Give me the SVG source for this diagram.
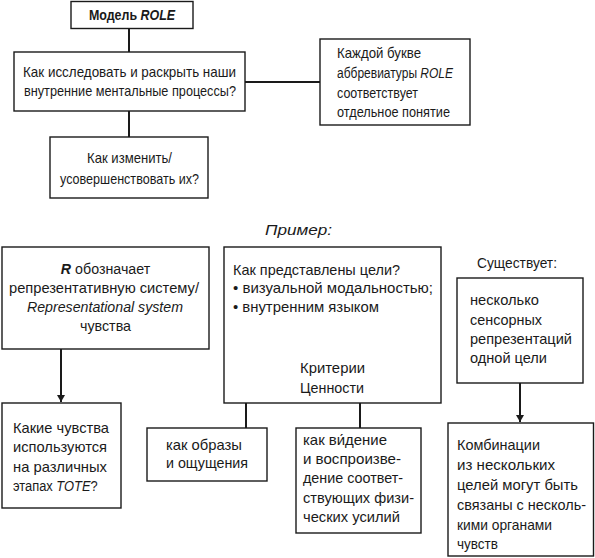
<svg xmlns="http://www.w3.org/2000/svg" width="595" height="558" viewBox="0 0 595 558">
<defs>
<style>
.b{fill:#fff;stroke:#1a1a1a;stroke-width:1.4}
.t{font-family:"Liberation Sans",Arial,sans-serif;font-size:15px;fill:#1a1a1a}
.c{text-anchor:middle}
.i{font-style:italic}
.ln{stroke:#1a1a1a;stroke-width:2;fill:none}
</style>
<marker id="ah" markerWidth="8" markerHeight="10" refX="7" refY="5" orient="auto" markerUnits="userSpaceOnUse">
<path d="M0,1 L7,5 L0,9 Z" fill="#1a1a1a"/>
</marker>
</defs>
<rect width="595" height="558" fill="#fff"/>
<g id="connectors">
<line class="ln" x1="129" y1="28" x2="129" y2="52"/>
<line class="ln" x1="245" y1="82" x2="320" y2="82"/>
<line class="ln" x1="129" y1="111" x2="129" y2="137"/>
<line class="ln" x1="61" y1="349" x2="61" y2="402" marker-end="url(#ah)"/>
<line class="ln" x1="246" y1="403" x2="246" y2="428"/>
<line class="ln" x1="360" y1="403" x2="360" y2="428"/>
<line class="ln" x1="520" y1="383" x2="520" y2="422" marker-end="url(#ah)"/>
</g>
<g id="n-role">
<rect class="b" x="71" y="1.5" width="122" height="27"/>
<text class="t c" x="0" y="0" transform="translate(132,20) scale(0.83,1)" font-size="14" font-weight="bold">Модель <tspan class="i">ROLE</tspan></text>
</g>
<g id="n-explore">
<rect class="b" x="14" y="52" width="231" height="59"/>
<text class="t c" x="129.5" y="77" textLength="213" lengthAdjust="spacingAndGlyphs">Как исследовать и раскрыть наши</text>
<text class="t c" x="130" y="96" textLength="212" lengthAdjust="spacingAndGlyphs">внутренние ментальные процессы?</text>
</g>
<g id="n-letter">
<rect class="b" x="320" y="39" width="150" height="86"/>
<text class="t" x="337" y="58" textLength="84" lengthAdjust="spacingAndGlyphs">Каждой букве</text>
<text class="t" x="0" y="0" transform="translate(337,78) scale(0.8,1)">аббревиатуры <tspan class="i">ROLE</tspan></text>
<text class="t" x="337" y="98" textLength="81" lengthAdjust="spacingAndGlyphs">соответствует</text>
<text class="t" x="337" y="117" textLength="113" lengthAdjust="spacingAndGlyphs">отдельное понятие</text>
</g>
<g id="n-change">
<rect class="b" x="50" y="137" width="158" height="61"/>
<text class="t c" x="129.5" y="163" textLength="85" lengthAdjust="spacingAndGlyphs">Как изменить/</text>
<text class="t c" x="129.5" y="184" textLength="139" lengthAdjust="spacingAndGlyphs">усовершенствовать их?</text>
</g>
<text class="t c i" x="298.5" y="235" font-size="17" textLength="67" lengthAdjust="spacingAndGlyphs">Пример:</text>
<g id="n-r">
<rect class="b" x="2" y="247" width="207" height="102"/>
<text class="t c" x="0" y="0" transform="translate(105.5,274) scale(0.95,1)"><tspan class="i" font-weight="bold">R</tspan> обозначает</text>
<text class="t c" x="104" y="293" textLength="190" lengthAdjust="spacingAndGlyphs">репрезентативную систему/</text>
<text class="t c i" x="105" y="312" textLength="156" lengthAdjust="spacingAndGlyphs">Representational system</text>
<text class="t c" x="105.5" y="331" textLength="51" lengthAdjust="spacingAndGlyphs">чувства</text>
</g>
<g id="n-senses">
<rect class="b" x="2" y="403" width="119" height="105"/>
<text class="t" x="13" y="433" textLength="96" lengthAdjust="spacingAndGlyphs">Какие чувства</text>
<text class="t" x="13" y="452" textLength="94" lengthAdjust="spacingAndGlyphs">используются</text>
<text class="t" x="13" y="472" textLength="94" lengthAdjust="spacingAndGlyphs">на различных</text>
<text class="t" x="0" y="0" transform="translate(13,491) scale(0.86,1)">этапах <tspan class="i">TOTE</tspan>?</text>
</g>
<g id="n-goals">
<rect class="b" x="224" y="247" width="217" height="156"/>
<text class="t" x="233" y="275" textLength="167" lengthAdjust="spacingAndGlyphs">Как представлены цели?</text>
<text class="t" x="233" y="293" textLength="200" lengthAdjust="spacingAndGlyphs">• визуальной модальностью;</text>
<text class="t" x="233" y="312" textLength="146" lengthAdjust="spacingAndGlyphs">• внутренним языком</text>
<text class="t" x="300" y="373" textLength="65" lengthAdjust="spacingAndGlyphs">Критерии</text>
<text class="t" x="300" y="393" textLength="64" lengthAdjust="spacingAndGlyphs">Ценности</text>
</g>
<g id="n-images">
<rect class="b" x="147" y="428" width="120" height="53"/>
<text class="t" x="166" y="450" textLength="76" lengthAdjust="spacingAndGlyphs">как образы</text>
<text class="t" x="166" y="468" textLength="82" lengthAdjust="spacingAndGlyphs">и ощущения</text>
</g>
<g id="n-vision">
<rect class="b" x="296" y="428" width="125" height="105"/>
<text class="t" x="303" y="445" textLength="84" lengthAdjust="spacingAndGlyphs">как ви́дение</text>
<text class="t" x="303" y="464" textLength="98" lengthAdjust="spacingAndGlyphs">и воспроизве-</text>
<text class="t" x="303" y="483" textLength="100" lengthAdjust="spacingAndGlyphs">дение соответ-</text>
<text class="t" x="303" y="503" textLength="111" lengthAdjust="spacingAndGlyphs">ствующих физи-</text>
<text class="t" x="303" y="522" textLength="97" lengthAdjust="spacingAndGlyphs">ческих усилий</text>
</g>
<text class="t" x="477" y="268" textLength="80" lengthAdjust="spacingAndGlyphs">Существует:</text>
<g id="n-several">
<rect class="b" x="457" y="278" width="126" height="105"/>
<text class="t" x="470" y="305" textLength="69" lengthAdjust="spacingAndGlyphs">несколько</text>
<text class="t" x="470" y="325" textLength="72" lengthAdjust="spacingAndGlyphs">сенсорных</text>
<text class="t" x="470" y="344" textLength="102" lengthAdjust="spacingAndGlyphs">репрезентаций</text>
<text class="t" x="470" y="363" textLength="77" lengthAdjust="spacingAndGlyphs">одной цели</text>
</g>
<g id="n-combo">
<rect class="b" x="448" y="423" width="145.5" height="133"/>
<text class="t" x="457" y="450" textLength="83" lengthAdjust="spacingAndGlyphs">Комбинации</text>
<text class="t" x="457" y="470" textLength="98" lengthAdjust="spacingAndGlyphs">из нескольких</text>
<text class="t" x="457" y="490" textLength="121" lengthAdjust="spacingAndGlyphs">целей могут быть</text>
<text class="t" x="457" y="510" textLength="129" lengthAdjust="spacingAndGlyphs">связаны с несколь-</text>
<text class="t" x="457" y="530" textLength="95" lengthAdjust="spacingAndGlyphs">кими органами</text>
<text class="t" x="457" y="549" textLength="41" lengthAdjust="spacingAndGlyphs">чувств</text>
</g>
</svg>
